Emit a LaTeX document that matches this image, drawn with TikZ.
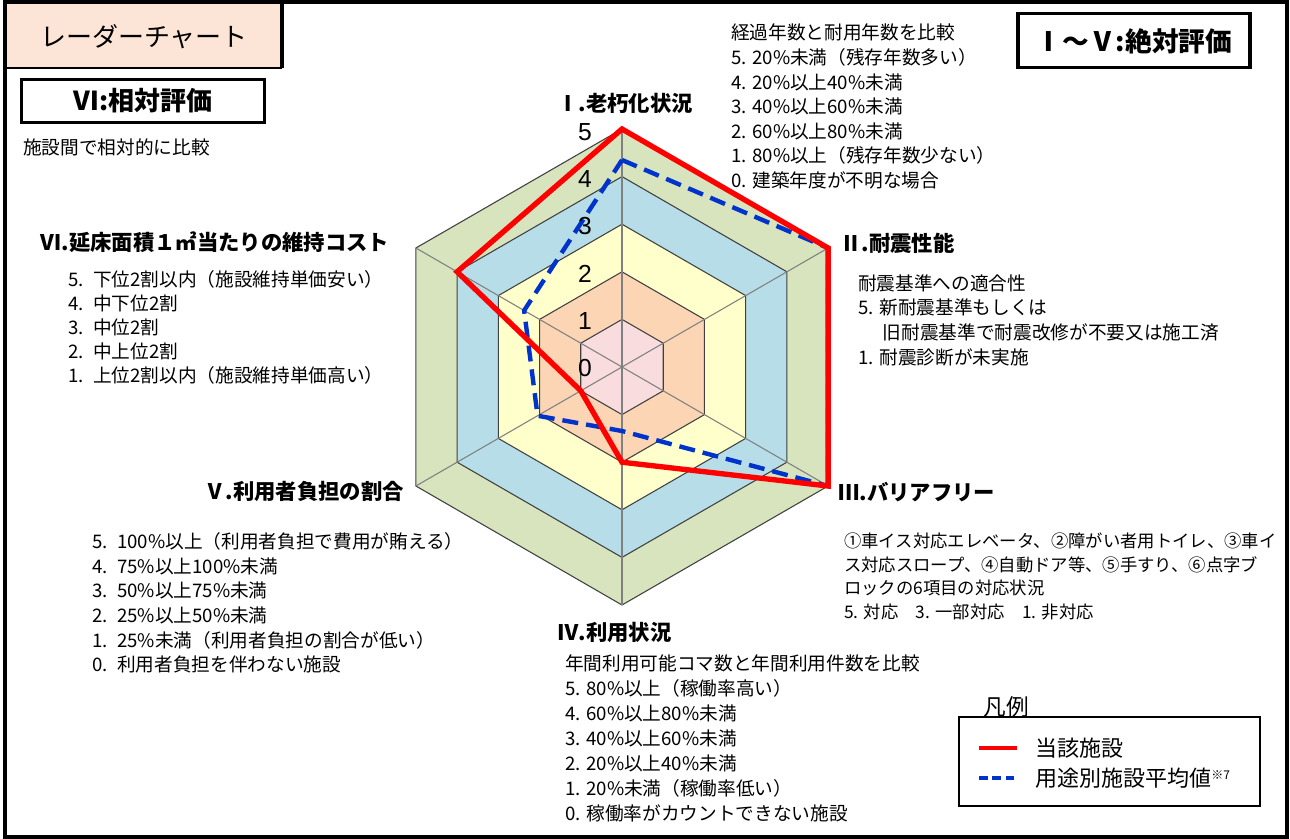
\documentclass[tikz,border=0pt]{standalone}
\usepackage{fontspec}
\setmainfont{Noto Sans CJK JP}
\newfontfamily\numfont{Liberation Sans}
\definecolor{ringA}{HTML}{D7E4BD}
\definecolor{ringB}{HTML}{B7DEE8}
\definecolor{ringC}{HTML}{FFFFCC}
\definecolor{ringD}{HTML}{FCD5B4}
\definecolor{ringE}{HTML}{F9DCDE}
\definecolor{titlebg}{HTML}{FCE4D6}
\definecolor{avgblue}{HTML}{0033CC}
\tikzset{
  frame/.style={draw=black, line width=2.6pt},
  ringedge/.style={draw=black!75, line width=0.8pt},
  spoke/.style={draw=black!50, line width=0.8pt},
  hdr/.style={font=\fontsize{16}{18}\selectfont\bfseries, inner sep=0pt},
  lst/.style={font=\fontsize{14}{#1}\selectfont, align=left, inner sep=0pt, anchor=west},
  axl/.style={font=\numfont\fontsize{18.5}{20}\selectfont, inner sep=0pt},
  cur/.style={draw=red, line width=4pt},
  avg/.style={draw=avgblue, line width=3.3pt, dash pattern=on 12pt off 6pt},
  boxed/.style={draw=black, line width=2.3pt},
}
\begin{document}
\begin{tikzpicture}[x=0.75pt,y=0.75pt]
\useasboundingbox (0,0) rectangle (1290,-839);
% title box
\fill[titlebg] (5,-2) rectangle (282,-68);
\draw[line width=2.5pt] (282,-2) -- (282,-68);
\draw[line width=1pt] (5,-68) -- (282,-68);
\node[font=\fontsize{19.5}{22}\selectfont, inner sep=0pt] (title) at (144,-37) {レーダーチャート};
% outer frame
\draw[frame] (5,-2) rectangle (1287,-837);
% boxes
\draw[boxed] (21.5,-79.5) rectangle (264.5,-122.5);
\node[font=\fontsize{19.5}{22}\selectfont\bfseries, inner sep=0pt] (rel) at (143,-101) {Ⅵ:相対評価};
\node[lst=18] (reltxt) at (23,-147) {施設間で相対的に比較};
\draw[boxed] (1018,-13.5) rectangle (1250,-67.5);
\node[font=\fontsize{20}{22}\selectfont\bfseries, inner sep=0pt] (abs) at (1134,-41) {Ⅰ～Ⅴ:絶対評価};
% radar
\begin{scope}[shift={(622,-367)}]
  \foreach \k/\c in {5/ringA,4/ringB,3/ringC,2/ringD,1/ringE}{
    \pgfmathsetmacro\r{\k*47.6}
    \draw[ringedge, fill=\c] (90:\r) -- (30:\r) -- (-30:\r) -- (-90:\r) -- (-150:\r) -- (150:\r) -- cycle;
  }
  \foreach \a in {90,30,-30,-90,-150,150}{
    \draw[spoke] (0,0) -- (\a:238);
  }
  % average (blue)
  \coordinate (a1) at (90:207);
  \coordinate (a2) at (30:238);
  \coordinate (a3) at (-30:238);
  \coordinate (a4) at (-90:64);
  \coordinate (a5) at (-150:97.5);
  \coordinate (a6) at (150:113);
  \draw[avg] (a1) -- (a2) -- (a3) -- (a4) -- (a5) -- (a6) -- cycle;
  % current (red)
  \coordinate (c1) at (90:238);
  \coordinate (c2) at (30:238);
  \coordinate (c3) at (-30:238);
  \coordinate (c4) at (-90:95.2);
  \coordinate (c5) at (-150:47.6);
  \coordinate (c6) at (150:190.4);
  \draw[cur] (c1) -- (c2) -- (c3) -- (c4) -- (c5) -- (c6) -- cycle;
  % axis labels
  \foreach \k in {0,...,5}{
    \node[axl] (n\k) at (-37,{47.2*\k-1}) {\k};
  }
\end{scope}
% headers
\node[hdr] (hI) at (625,-103) {Ⅰ.老朽化状況};
\node[hdr, anchor=west] (hII) at (840,-243) {Ⅱ.耐震性能};
\node[hdr, anchor=west] (hIII) at (838,-492) {Ⅲ.バリアフリー};
\node[hdr, anchor=west] (hIV) at (557,-632) {Ⅳ.利用状況};
\node[hdr, anchor=east] (hV) at (404,-491) {Ⅴ.利用者負担の割合};
\node[hdr, anchor=west] (hVI) at (40,-242) {Ⅵ.延床面積１㎡当たりの維持コスト};
% lists
\node[lst=18.4] (tI) at (731,-106.5) {経過年数と耐用年数を比較\\5. 20\%未満（残存年数多い）\\4. 20\%以上40\%未満\\3. 40\%以上60\%未満\\2. 60\%以上80\%未満\\1. 80\%以上（残存年数少ない）\\0. 建築年度が不明な場合};
\node[lst=18.5] (tII) at (858,-320) {耐震基準への適合性\\5. 新耐震基準もしくは\\\hspace*{18.5pt}旧耐震基準で耐震改修が不要又は施工済\\1. 耐震診断が未実施};
\node[lst=17.8, font=\fontsize{13}{17.8}\selectfont] (tIII) at (844,-576.5) {①車イス対応エレベータ、②障がい者用トイレ、③車イ\\ス対応スロープ、④自動ドア等、⑤手すり、⑥点字ブ\\ロックの6項目の対応状況\\5. 対応\hspace{1em}3. 一部対応\hspace{1em}1. 非対応};
\node[lst=18.75] (tIV) at (565,-738) {年間利用可能コマ数と年間利用件数を比較\\5. 80\%以上（稼働率高い）\\4. 60\%以上80\%未満\\3. 40\%以上60\%未満\\2. 20\%以上40\%未満\\1. 20\%未満（稼働率低い）\\0. 稼働率がカウントできない施設};
\node[lst=18.45] (tV) at (92,-603) {5.\hspace{0.5em}100\%以上（利用者負担で費用が賄える）\\4.\hspace{0.5em}75\%以上100\%未満\\3.\hspace{0.5em}50\%以上75\%未満\\2.\hspace{0.5em}25\%以上50\%未満\\1.\hspace{0.5em}25\%未満（利用者負担の割合が低い）\\0.\hspace{0.5em}利用者負担を伴わない施設};
\node[lst=18] (tVI) at (68,-327) {5.\hspace{0.5em}下位2割以内（施設維持単価安い）\\4.\hspace{0.5em}中下位2割\\3.\hspace{0.5em}中位2割\\2.\hspace{0.5em}中上位2割\\1.\hspace{0.5em}上位2割以内（施設維持単価高い）};
% legend
\draw[line width=0.8pt] (959,-717) rectangle (1260,-806);
\node[font=\fontsize{17}{19}\selectfont, inner sep=0pt] (lgt) at (1006,-707) {凡例};
\coordinate (r0) at (979,-748);
\coordinate (r1) at (1017,-748);
\draw[draw=red, line width=2.3pt] (r0) -- (r1);
\coordinate (b0) at (979,-778);
\coordinate (b1) at (1017,-778);
\draw[draw=avgblue, line width=2.3pt, dash pattern=on 6.5pt off 3.5pt] (b0) -- (b1);
\node[font=\fontsize{16.5}{19}\selectfont, inner sep=0pt, anchor=west] (lg1) at (1035,-748) {当該施設};
\node[font=\fontsize{16.5}{19}\selectfont, inner sep=0pt, anchor=west] (lg2) at (1035,-778) {用途別施設平均値\raisebox{0.6ex}{\fontsize{9}{9}\selectfont ※7}};
\end{tikzpicture}
\end{document}
